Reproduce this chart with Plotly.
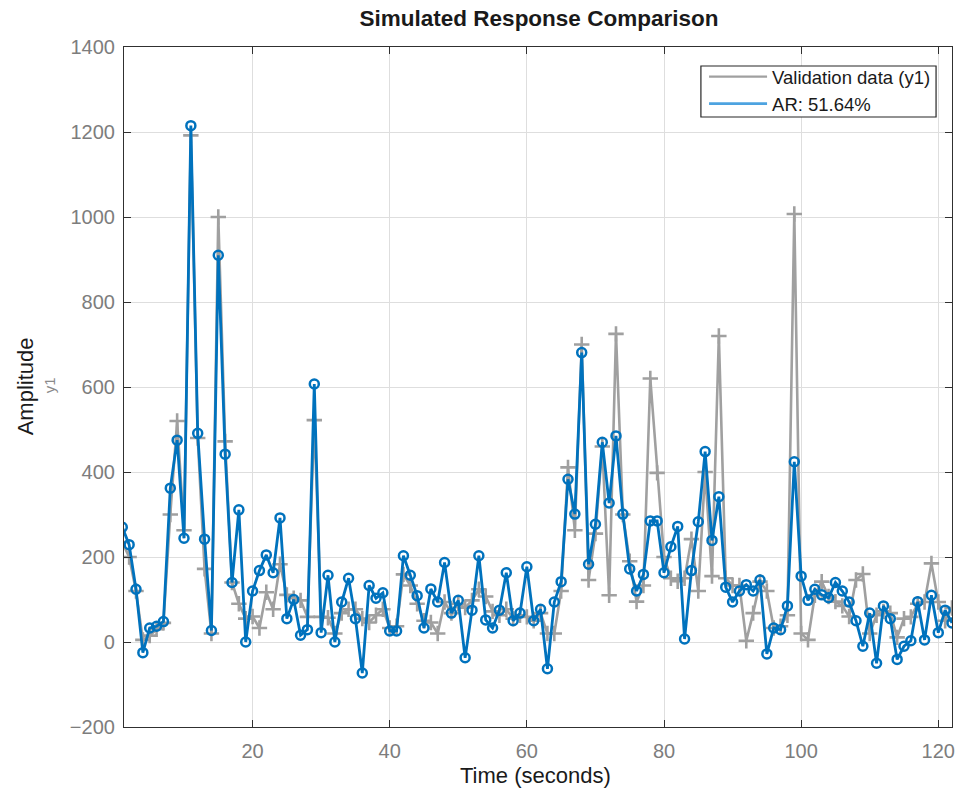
import plotly.graph_objects as go

time_s = list(range(1, 123))

validation_y1 = [
    235, 200, 120, 5, 15, 30, 45, 300, 520, 263,
    1192, 480, 172, 20, 1000, 472, 140, 90, 55, 60,
    33, 117, 77, 183, 111, 103, 98, 59, 522, 59,
    57, 20, 68, 77, 77, 55, 46, 63, 77, 33,
    37, 159, 133, 90, 50, 46, 20, 94, 68, 90,
    81, 98, 124, 107, 72, 63, 77, 55, 63, 59,
    50, 68, 20, 20, 120, 411, 263, 700, 146, 255,
    460, 110, 725, 300, 190, 95, 133, 620, 398, 200,
    150, 143, 150, 242, 120, 400, 155, 720, 150, 133,
    133, 3, 68, 142, 120, 33, 37, 63, 1007, 20,
    5, 110, 142, 107, 95, 85, 60, 146, 160, 20,
    63, 72, 68, 11, 55, 59, 90, 94, 185, 94,
    50, 80,
]

ar_model = [
    270, 229, 124, -25, 33, 37, 48, 362, 475, 244,
    1215, 491, 242, 27, 910, 442, 140, 311, 0, 120,
    168, 205, 163, 292, 55, 100, 16, 29, 607, 22,
    157, 0, 94, 150, 55, -73, 133, 103, 116, 26,
    26, 203, 157, 109, 33, 125, 94, 187, 68, 98,
    -37, 75, 203, 52, 33, 75, 163, 50, 68, 177,
    50, 77, -63, 94, 142, 383, 301, 681, 183, 277,
    470, 327, 485, 301, 172, 120, 159, 285, 285, 163,
    224, 272, 7, 168, 283, 448, 239, 342, 129, 94,
    120, 135, 120, 146, -28, 33, 29, 85, 424, 155,
    98, 124, 111, 104, 140, 120, 94, 50, -10, 68,
    -50, 85, 55, -41, -10, 3, 95, 5, 110, 22,
    75, 45,
]

x_ticks = [20, 40, 60, 80, 100, 120]
y_ticks = [-200, 0, 200, 400, 600, 800, 1000, 1200, 1400]

GRAY = "#a0a0a0"
BLUE = "#0072BD"
FONT = "Liberation Sans, Arial, Helvetica, sans-serif"

W, H = 958, 794
L, R, T, B = 124, 955, 47, 727   # plot area in page pixels


def px(xp):
    return (xp - L) / (R - L)


def py(yp):
    return (B - yp) / (B - T)


fig = go.Figure()

fig.add_trace(go.Scatter(
    x=time_s, y=validation_y1, mode="lines+markers", showlegend=False,
    line=dict(color=GRAY, width=2.6),
    marker=dict(symbol="cross-thin-open", size=11, color=GRAY,
                line=dict(color=GRAY, width=2.6)),
))
fig.add_trace(go.Scatter(
    x=time_s, y=ar_model, mode="lines+markers", showlegend=False,
    line=dict(color=BLUE, width=2.8),
    marker=dict(symbol="circle-open", size=9, color=BLUE,
                line=dict(color=BLUE, width=2.5)),
))
# legend-only entries (line samples as in the original legend)
fig.add_trace(go.Scatter(x=[None], y=[None], mode="lines", name="Validation data (y1)",
                         line=dict(color=GRAY, width=2.2)))
fig.add_trace(go.Scatter(x=[None], y=[None], mode="lines", name="AR: 51.64%",
                         line=dict(color="#4da3e0", width=2.8)))

axis_common = dict(
    showline=True, linecolor="#303030", linewidth=1.2, mirror="ticks",
    ticks="inside", ticklen=7, tickcolor="#303030",
    showgrid=True, gridcolor="#dedede", gridwidth=1,
    zeroline=False,
    tickfont=dict(family=FONT, size=20, color="#7d7d7d"),
)

fig.update_layout(
    width=W, height=H,
    paper_bgcolor="white", plot_bgcolor="white",
    margin=dict(l=L, r=W - R, t=T, b=H - B),
    title=dict(text="<b>Simulated Response Comparison</b>", x=539 / W, xanchor="center",
               xref="container", y=1 - 18 / H, yanchor="middle",
               font=dict(family=FONT, size=22.5, color="#1a1a1a")),
    xaxis=dict(range=[1.25, 122], tickvals=x_ticks, ticklabelstandoff=6,
               **axis_common),
    yaxis=dict(range=[-200, 1400], tickvals=y_ticks, ticklabelstandoff=4,
               **axis_common),
    legend=dict(x=px(939), y=py(58), xanchor="right", yanchor="top",
                bgcolor="rgba(0,0,0,0)", borderwidth=0,
                font=dict(family=FONT, size=18.5, color="#1a1a1a"),
                itemwidth=58, tracegroupgap=0),
    showlegend=True,
)

# legend frame (white box with dark border)
fig.add_shape(type="rect", xref="paper", yref="paper",
              x0=px(703), x1=px(939), y0=py(117), y1=py(66),
              fillcolor="white", line=dict(color="#262626", width=1.2), layer="above")

fig.add_annotation(text="Time (seconds)", xref="paper", yref="paper",
                   x=px(537), y=py(775), showarrow=False,
                   xanchor="center", yanchor="middle",
                   font=dict(family=FONT, size=22, color="#1a1a1a"))
fig.add_annotation(text="Amplitude", xref="paper", yref="paper",
                   x=px(25), y=py(386),
                   textangle=-90, showarrow=False, xanchor="center", yanchor="middle",
                   font=dict(family=FONT, size=22, color="#1a1a1a"))
fig.add_annotation(text="y1", xref="paper", yref="paper",
                   x=px(49), y=py(385),
                   textangle=-90, showarrow=False, xanchor="center", yanchor="middle",
                   font=dict(family=FONT, size=15, color="#8a8a8a"))

fig.write_html("out.html", config={"displayModeBar": False},
               post_script="document.body.style.margin='0';document.body.style.overflow='hidden';")
